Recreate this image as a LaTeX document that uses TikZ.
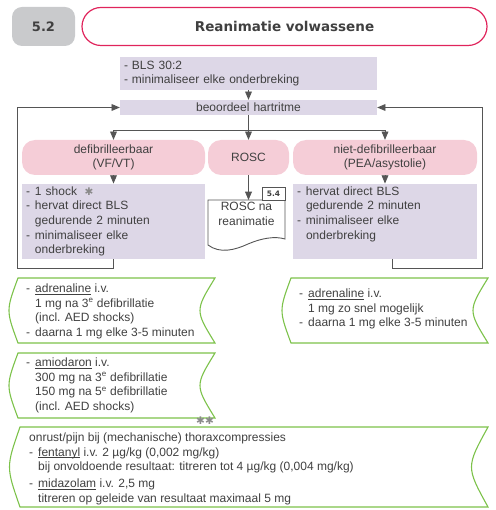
\documentclass[tikz,border=0pt]{standalone}
\usepackage{fontspec}
\setmainfont{Liberation Sans}
\newfontfamily\symbolfont{DejaVu Sans}
\usetikzlibrary{arrows}
\definecolor{ink}{HTML}{404040}
\definecolor{wire}{HTML}{555555}
\definecolor{lilac}{HTML}{DDD7E7}
\definecolor{rose}{HTML}{F5CDD7}
\definecolor{crimson}{HTML}{E0245C}
\definecolor{leaf}{HTML}{7CC24A}
\definecolor{chapter}{HTML}{C9CACC}
\definecolor{note}{HTML}{8A8A8A}
\newcommand{\drugname}[1]{\setbox0\hbox{#1}\rlap{\rule[-1.8pt]{\wd0}{0.5pt}}\box0\relax}

\begin{document}
\begin{tikzpicture}[x=1pt, y=-1pt, auto, font=\fontsize{12}{14.7}\selectfont, text=ink]
    \tikzstyle{chapter tag} = [fill=chapter, rounded corners=10pt, minimum width=63pt, minimum height=39pt, font=\symbolfont\bfseries\fontsize{13}{15}\selectfont]
    \tikzstyle{title tag} = [draw=crimson, line width=1.2pt, rounded corners=19pt, minimum width=405pt, minimum height=38pt, font=\symbolfont\bfseries\fontsize{13.5}{16}\selectfont]
    \tikzstyle{action box} = [fill=lilac, inner xsep=4pt, inner ysep=1pt, align=left]
    \tikzstyle{rhythm box} = [fill=rose, rounded corners=13pt, minimum height=35pt, align=center]
    \tikzstyle{drug text} = [anchor=north west, inner sep=0pt, align=left]
    \tikzstyle{drug outline} = [draw=leaf, line width=1.1pt]
    \tikzstyle{star note} = [text=note, inner sep=0pt, font=\symbolfont\fontsize{10.5}{10}\selectfont]
    \tikzstyle{graph edge undirected} = [draw=wire, line width=0.9pt]
    \tikzstyle{graph edge directed} = [graph edge undirected, ->, >=triangle 45]
\useasboundingbox (0,0) rectangle (495,510);
\node[chapter tag] (chapter) at (43.5,26.5) {5.2};
\node[title tag] (title) at (284.5,26.5) {Reanimatie volwassene};
\node[action box, text width=249pt, minimum height=33pt] (bls) at (248.5,73.5) {- BLS 30:2\\- minimaliseer elke onderbreking};
\node[action box, align=center, text width=249pt, minimum height=15pt] (rhythm) at (248.5,107.5) {beoordeel hartritme};
\node[rhythm box, minimum width=183pt] (shockable) at (113.5,157.5) {defibrilleerbaar\\(VF/VT)};
\node[rhythm box, minimum width=81pt] (rosc) at (248.5,157.5) {ROSC};
\node[rhythm box, minimum width=184pt] (nonshockable) at (385,157.5) {niet-defibrilleerbaar\\(PEA/asystolie)};
\node[action box, text width=175pt, minimum height=73pt] (shockTodo) at (113.5,221.5) {\begin{tabular}{@{}l@{\hspace{5pt}}l@{}}-&1 shock\\-&hervat direct BLS\\&gedurende 2 minuten\\-&minimaliseer elke\\&onderbreking\end{tabular}};
\node[action box, text width=176pt, minimum height=73pt] (nonshockTodo) at (385,221.5) {\begin{tabular}{@{}l@{\hspace{5pt}}l@{}}-&hervat direct BLS\\&gedurende 2 minuten\\-&minimaliseer elke\\&onderbreking\\&\end{tabular}};
\draw[graph edge undirected, fill=white] (208,200) -- (285,200) -- (285,239) .. controls (275,236) and (262,238) .. (248,244) .. controls (235,250) and (220,254) .. (208,245) -- cycle;
\node[inner sep=0pt, minimum width=77pt, minimum height=28pt, anchor=north, align=center] (roscDoc) at (246.5,200) {ROSC na\\reanimatie};
\node[draw=wire, fill=white, line width=0.9pt, minimum width=23pt, minimum height=13pt, inner sep=0pt, font=\symbolfont\bfseries\fontsize{7.5}{9}\selectfont] (chapterRef) at (273.5,193.5) {5.4};
\node[star note] (shockNote) at (89,192) {✱};
\coordinate (split) at (248.5,130);
\coordinate (loopL) at (17,268);
\coordinate (loopR) at (482,268);
\draw[graph edge directed] (bls) to (rhythm);
\draw[graph edge undirected] (rhythm) to (split);
\draw[graph edge directed] (split) -| (shockable);
\draw[graph edge directed] (split) -| (nonshockable);
\draw[graph edge directed] (split) to (rosc);
\draw[graph edge directed] (shockable) to (shockTodo);
\draw[graph edge directed] (nonshockable) to (nonshockTodo);
\draw[graph edge directed] (rosc) to (rosc |- roscDoc.north);
\draw[graph edge directed] (shockTodo.south) |- (loopL) |- (rhythm.west);
\draw[graph edge directed] ([xshift=7pt]nonshockTodo.south) |- (loopR) |- (rhythm.east);
% medication
\draw[drug outline] (18,278) -- (215,278) .. controls (195,310.5) .. (215,343) -- (18,343) .. controls (6,310.5) .. (18,278) -- cycle;
\draw[drug outline] (291,278) -- (488,278) .. controls (468,310.5) .. (488,343) -- (291,343) .. controls (279,310.5) .. (291,278) -- cycle;
\draw[drug outline] (18,353) -- (215,353) .. controls (195,385.5) .. (215,418) -- (18,418) .. controls (6,385.5) .. (18,353) -- cycle;
\draw[drug outline] (20,427) -- (488,427) .. controls (466,467) .. (488,507) -- (20,507) .. controls (6,467) .. (20,427) -- cycle;
\node[drug text] (adrShock) at (26,282) {\begin{tabular}{@{}l@{\hspace{5pt}}l@{}}-&\drugname{adrenaline} i.v.\\&1 mg na 3\textsuperscript{e} defibrillatie\\&(incl. AED shocks)\\-&daarna 1 mg elke 3-5 minuten\end{tabular}};
\node[drug text] (adrNonShock) at (299,287) {\begin{tabular}{@{}l@{\hspace{5pt}}l@{}}-&\drugname{adrenaline} i.v.\\&1 mg zo snel mogelijk\\-&daarna 1 mg elke 3-5 minuten\end{tabular}};
\node[drug text] (amio) at (26,356) {\begin{tabular}{@{}l@{\hspace{5pt}}l@{}}-&\drugname{amiodaron} i.v.\\&300 mg na 3\textsuperscript{e} defibrillatie\\&150 mg na 5\textsuperscript{e} defibrillatie\\&(incl. AED shocks)\end{tabular}};
\node[drug text] (sedation) at (29,431) {\begin{tabular}{@{}l@{\hspace{5pt}}l@{}}\multicolumn{2}{@{}l@{}}{onrust/pijn bij (mechanische) thoraxcompressies}\\-&\drugname{fentanyl} i.v. 2 µg/kg (0,002 mg/kg)\\&bij onvoldoende resultaat: titreren tot 4 µg/kg (0,004 mg/kg)\\\noalign{\vskip 2pt}-&\drugname{midazolam} i.v. 2,5 mg\\&titreren op geleide van resultaat maximaal 5 mg\end{tabular}};
\node[star note] (sedationNote) at (205,421) {✱✱};
\end{tikzpicture}
\end{document}
